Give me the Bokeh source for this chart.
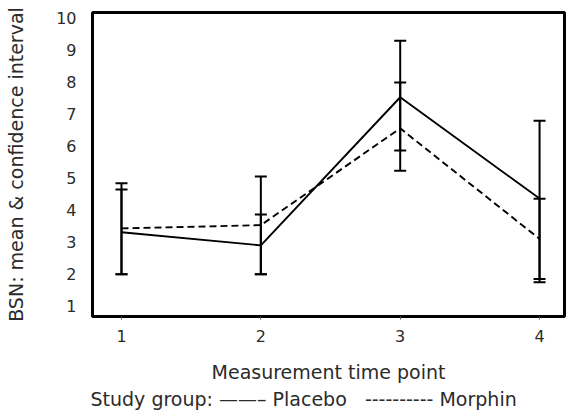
from bokeh.plotting import figure
from bokeh.models import Range1d, FixedTicker, Whisker, TeeHead, ColumnDataSource, Title
from bokeh.embed import file_html
from bokeh.resources import INLINE

time_points = [1, 2, 3, 4]
placebo_mean = [3.31, 2.90, 7.52, 4.36]
placebo_lower = [2.00, 2.00, 5.86, 1.75]
placebo_upper = [4.64, 3.86, 9.28, 6.79]
morphin_mean = [3.43, 3.53, 6.55, 3.10]
morphin_lower = [2.00, 2.00, 5.23, 1.85]
morphin_upper = [4.84, 5.05, 7.98, 4.35]
y_ticks = [1, 2, 3, 4, 5, 6, 7, 8, 9, 10]

TXT = "#2b2b2b"
FONT = "DejaVu Sans"

p = figure(width=566, height=416, output_backend="svg", toolbar_location=None,
           x_range=Range1d(0.792, 4.179), y_range=Range1d(0.68, 10.165),
           min_border_left=92, min_border_right=2, min_border_top=12, min_border_bottom=100)

p.xgrid.visible = False
p.ygrid.visible = False
p.outline_line_color = "black"
p.outline_line_width = 3
p.background_fill_color = "white"
p.border_fill_color = "white"

src_p = ColumnDataSource(dict(x=time_points, m=placebo_mean, lo=placebo_lower, up=placebo_upper))
src_m = ColumnDataSource(dict(x=time_points, m=morphin_mean, lo=morphin_lower, up=morphin_upper))

p.line("x", "m", source=src_p, line_color="black", line_width=1.9)
p.line("x", "m", source=src_m, line_color="black", line_width=1.9, line_dash="7 4")

for src in (src_p, src_m):
    w = Whisker(source=src, base="x", lower="lo", upper="up", line_color="black", line_width=2,
                upper_head=TeeHead(size=12, line_width=2, line_color="black"),
                lower_head=TeeHead(size=12, line_width=2, line_color="black"))
    p.add_layout(w)

p.xaxis.ticker = FixedTicker(ticks=time_points)
p.yaxis.ticker = FixedTicker(ticks=y_ticks)
for ax in (p.xaxis, p.yaxis):
    ax.axis_line_color = None
    ax.minor_tick_line_color = None
    ax.major_label_text_font = FONT
    ax.major_label_text_font_size = "16px"
    ax.major_label_text_color = TXT
    ax.axis_label_text_font = FONT
    ax.axis_label_text_font_size = "19px"
    ax.axis_label_text_font_style = "normal"
    ax.axis_label_text_color = TXT

p.yaxis.major_tick_line_color = None
p.yaxis.major_label_standoff = 10
p.yaxis.axis_label = "BSN: mean & confidence interval"
p.yaxis.axis_label_standoff = 26

p.xaxis.major_tick_in = 0
p.xaxis.major_tick_out = 3
p.xaxis.major_tick_line_color = "#555555"
p.xaxis.major_label_standoff = 10
p.xaxis.axis_label = "Measurement time point"
p.xaxis.axis_label_standoff = 16

nb = "\u00a0"
legend_text = "Study group:" + nb + "\u2014\u2014\u2013" + nb + "Placebo" + nb * 3 + "-" * 10 + nb + "Morphin"
t = Title(text=legend_text, align="left", offset=-2, text_font=FONT, text_font_size="19px",
          text_font_style="normal", text_color=TXT, standoff=5, vertical_align="top")
p.add_layout(t, "below")

open("out.html", "w").write(file_html(p, INLINE))
